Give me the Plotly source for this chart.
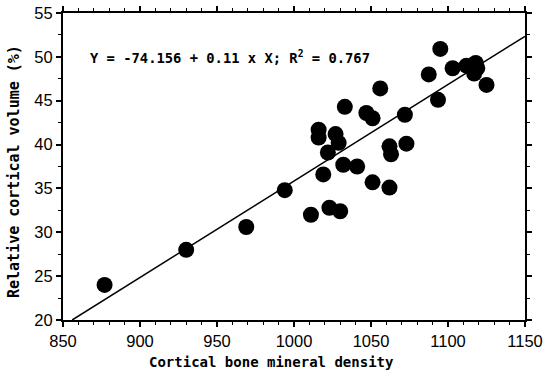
import plotly.graph_objects as go

# Data
bmd = [877, 930, 969, 994, 1011, 1023, 1030, 1019, 1022, 1016, 1016, 1027, 1029,
       1032, 1033, 1041, 1047, 1051, 1051, 1056, 1062, 1062, 1063, 1072, 1073,
       1087.5, 1093.5, 1095, 1103, 1112, 1118, 1117, 1119, 1125]
rel_vol = [24.0, 28.0, 30.6, 34.8, 32.0, 32.8, 32.4, 36.6, 39.1, 41.7, 40.8, 41.2, 40.2,
           37.7, 44.3, 37.5, 43.6, 43.0, 35.7, 46.4, 35.1, 39.8, 38.9, 43.4, 40.1,
           48.0, 45.1, 50.9, 48.7, 49.0, 49.3, 48.1, 48.7, 46.8]

intercept = -74.156
slope = 0.11
r2 = 0.767

x_range = [850, 1150]
y_range = [20, 55]
x_ticks = [850, 900, 950, 1000, 1050, 1100, 1150]
y_ticks = [20, 25, 30, 35, 40, 45, 50, 55]

x_title = "Cortical bone mineral density"
y_title = "Relative cortical volume (%)"
eq_text = f"Y = {intercept} + {slope} x X; R<sup>2</sup> = {r2}"

# regression line from the equation, clipped to the plotting window
x_start = (y_range[0] - intercept) / slope
line_x = [x_start, x_range[1]]
line_y = [intercept + slope * v for v in line_x]

fig = go.Figure()
fig.add_trace(go.Scatter(x=line_x, y=line_y, mode="lines",
                         line=dict(color="black", width=1.5),
                         hoverinfo="skip", showlegend=False, cliponaxis=True))
fig.add_trace(go.Scatter(x=bmd, y=rel_vol, mode="markers",
                         marker=dict(color="black", size=16),
                         showlegend=False))

axis_common = dict(showline=True, linecolor="black", linewidth=2, mirror="allticks",
                   ticks="outside", ticklen=5, tickwidth=1.5, tickcolor="black",
                   showgrid=False, zeroline=False, automargin=False,
                   tickfont=dict(family="Liberation Sans, Arial, sans-serif", size=16.5, color="black"))

fig.update_xaxes(range=x_range, tickvals=x_ticks, **axis_common,
                 minor=dict(dtick=10, ticks="outside", ticklen=3, tickcolor="black", tickwidth=1))
fig.update_yaxes(range=y_range, tickvals=y_ticks, **axis_common,
                 minor=dict(dtick=2.5, ticks="outside", ticklen=3, tickcolor="black", tickwidth=1))

mono = "DejaVu Sans Mono, Liberation Mono, monospace"
fig.add_annotation(text=eq_text, xref="paper", yref="paper", x=(88 - 63) / 462, y=1 - (57 - 13) / 307,
                   xanchor="left", yanchor="middle", showarrow=False,
                   font=dict(family=mono, size=13.8, color="black", weight="bold"))
fig.add_annotation(text=x_title, xref="paper", yref="paper", x=(271 - 63) / 462, y=-(362 - 320) / 307,
                   xanchor="center", yanchor="middle", showarrow=False,
                   font=dict(family=mono, size=14, color="black", weight="bold"))
fig.add_annotation(text=y_title, xref="paper", yref="paper", x=-(63 - 14) / 462, y=1 - (172 - 13) / 307,
                   xanchor="center", yanchor="middle", showarrow=False, textangle=-90,
                   font=dict(family=mono, size=15, color="black", weight="bold"))

fig.update_layout(width=543, height=380, margin=dict(l=63, r=18, t=13, b=60),
                  plot_bgcolor="white", paper_bgcolor="white")

fig.write_html("out.html")
